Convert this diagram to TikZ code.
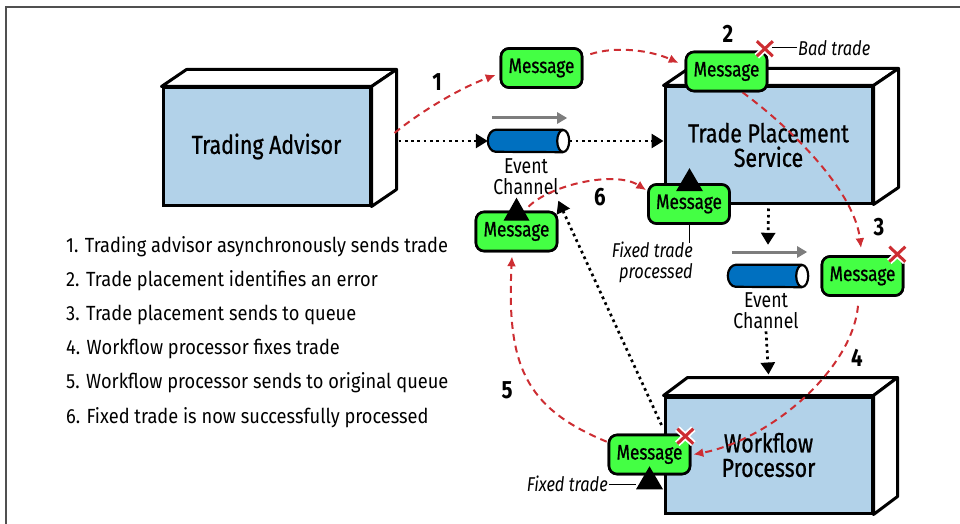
\documentclass[tikz,border=0pt]{standalone}
\usepackage{fontspec}
\setmainfont{Fira Sans}[FakeStretch=0.82]
\newfontfamily\mediumfamily{Fira Sans}[FakeStretch=0.82, FakeBold=0.8]
\newfontfamily\listfamily{Fira Sans}[FakeStretch=0.89]
\usetikzlibrary{arrows.meta}
\definecolor{boxblue}{RGB}{178,210,233}
\definecolor{msggreen}{RGB}{68,255,68}
\definecolor{flowred}{RGB}{205,45,50}
\definecolor{chanblue}{RGB}{0,112,192}
\definecolor{arrowgray}{RGB}{125,125,125}
\definecolor{framegray}{RGB}{80,80,80}
\newcommand\boxfont{\mediumfamily\fontsize{26}{24.5}\selectfont}
\newcommand\msgfont{\mediumfamily\fontsize{21}{24}\selectfont}
\newcommand\listfont{\listfamily\fontsize{20.5}{22}\selectfont}
\newcommand\chanfont{\fontsize{21.5}{21.3}\selectfont}
\newcommand\numfont{\fontsize{25}{25}\selectfont\bfseries}
\newcommand\notefont{\fontsize{20}{21}\selectfont\itshape}
\newcommand\solidbox[3]{%
  \draw[boxside] (#1.north west) -- ++(#2,#3) -- ([shift={(#2,#3)}]#1.north east) -- (#1.north east) -- cycle;
  \draw[boxside] (#1.north east) -- ++(#2,#3) -- ([shift={(#2,#3)}]#1.south east) -- (#1.south east) -- cycle;}
\newcommand\channel[1]{%
  \fill[chanblue] ([xshift=-6pt]#1.north east) -- ([xshift=8pt]#1.north west) arc[start angle=90, end angle=270, x radius=8pt, y radius=11pt] -- ([xshift=-6pt]#1.south east) -- cycle;
  \draw[line width=2.2pt] ([xshift=-6pt]#1.north east) -- ([xshift=8pt]#1.north west) arc[start angle=90, end angle=270, x radius=8pt, y radius=11pt] -- ([xshift=-6pt]#1.south east);
  \draw[line width=2.2pt, fill=white] ([xshift=-6pt]#1.east) ellipse [x radius=6pt, y radius=11pt];}
\newcommand\badmark[1]{%
  \draw[white, line width=6.5pt] ([shift={(-8,-7.5)}]#1) -- ([shift={(8,7.5)}]#1) ([shift={(-8,7.5)}]#1) -- ([shift={(8,-7.5)}]#1);
  \draw[flowred, line width=3pt] ([shift={(-8,-7.5)}]#1) -- ([shift={(8,7.5)}]#1) ([shift={(-8,7.5)}]#1) -- ([shift={(8,-7.5)}]#1);}
\begin{document}
\begin{tikzpicture}[x=1pt,y=-1pt,
  boxface/.style={draw, line width=3pt, fill=boxblue, inner sep=0pt, font=\boxfont, align=center, minimum width=207pt, minimum height=117pt},
  boxside/.style={draw, line width=3pt, fill=white, line join=round},
  msg/.style={draw, line width=2.6pt, fill=msggreen, rounded corners=8pt, minimum width=81pt, minimum height=39pt, inner sep=0pt, font=\msgfont},
  flow/.style={draw=flowred, line width=2pt, dash pattern=on 7pt off 5pt, -{Latex[length=10pt,width=9pt]}},
  dotflow/.style={line width=2.7pt, dash pattern=on 2.7pt off 3.6pt, -{Triangle[length=12pt,width=14pt]}},
  grayarrow/.style={arrowgray, line width=3pt, -{Triangle[length=10pt,width=11pt]}},
  chanhelper/.style={inner sep=0pt, minimum height=22pt},
  chanlabel/.style={font=\chanfont, align=center, inner sep=0pt},
  listitem/.style={font=\listfont, anchor=base west, inner sep=0pt},
  num/.style={font=\numfont, inner sep=0pt},
  note/.style={font=\notefont, inner sep=1pt},
  leader/.style={line width=1pt},
  pointer/.style={fill=black}
]
\useasboundingbox (0,0) rectangle (960,524);
% frame
\draw[framegray, line width=1.5pt] (6,524) -- (6,7) -- (960,7);

% boxes
\node[boxface] (ta) at (266.5,146.5) {Trading Advisor};
\solidbox{ta}{25}{-17}
\node[boxface, minimum height=116pt] (tps) at (768.5,145) {Trade Placement\\Service};
\solidbox{tps}{25}{-17}
\node[boxface, minimum height=116pt] (wp) at (768.5,455) {Workflow\\Processor};
\solidbox{wp}{24}{-18}

% event channels
\node[chanhelper, minimum width=81pt] (ec1) at (528.5,141) {};
\channel{ec1}
\node[chanhelper, minimum width=80pt] (ec2) at (768,276) {};
\channel{ec2}
\draw[grayarrow] ([shift={(4,-23)}]ec1.west) -- ([shift={(-2,-23)}]ec1.east);
\draw[grayarrow] ([shift={(4,-24)}]ec2.west) -- ([shift={(-1,-24)}]ec2.east);
\node[chanlabel] (ec1lbl) at (526,177) {Event\\Channel};
\node[chanlabel] (ec2lbl) at (766,311) {Event\\Channel};

% messages
\node[msg] (m1) at (541.5,68) {Message};
\node[msg] (m2) at (726.5,71.5) {Message};
\node[msg] (m6) at (689,204) {Message};
\node[msg] (m5) at (516.5,231.5) {Message};
\node[msg] (m3) at (862.5,276) {Message};
\node[msg] (m4) at (649.5,454.5) {Message};

% dotted connectors
\coordinate (taport) at ([shift={(27,-5.5)}]ta.east);
\draw[dotflow] (taport) -- (ec1.west);
\draw[dotflow] (ec1.east) -- (ec1.east -| tps.west);
\draw[dotflow] ([shift={(0,4)}]tps.south) -- ([shift={(0,-20)}]ec2.north);
\draw[dotflow] ([shift={(0,2)}]ec2lbl.south) -- ([shift={(0,-21)}]wp.north);
\draw[dotflow] ([shift={(-2,-30)}]wp.west) -- ([shift={(0,-10)}]m5.north east);

% red flow
\draw[flow] ([shift={(23,-13.5)}]ta.east) .. controls (420,112) and (460,88) .. ([shift={(-4,7)}]m1.west);
\draw[flow] ([shift={(7,7)}]m1.north east) .. controls (615,46) and (650,50) .. ([shift={(-6,-8.5)}]m2.west);
\draw[flow] ([xshift=16pt]m2.south) .. controls (800,135) and (855,195) .. ([shift={(-1.5,-7)}]m3.north);
\draw[flow] ([shift={(-4.5,9)}]m3.south) .. controls (852,370) and (770,440) .. ([shift={(2,0)}]m4.east);
\draw[flow] ([shift={(-1,8)}]m4.north west) .. controls (525,408) and (506.5,365) .. ([shift={(-4.5,4)}]m5.south);
\draw[flow] ([shift={(12,-4)}]m5.north) .. controls (550,185) and (615,170) .. ([shift={(-1,7)}]m6.north west);

% redraw message nodes on top of flows
\node[msg] at (m1) {Message};
\node[msg] at (m2) {Message};
\node[msg] at (m6) {Message};
\node[msg] at (m5) {Message};
\node[msg] at (m3) {Message};
\node[msg] at (m4) {Message};

% pointers
\fill[pointer] ([shift={(0.5,-15)}]m6.north) -- ++(13.5,23) -- ++(-27,0) -- cycle;
\fill[pointer] ([shift={(0,-13)}]m5.north) -- ++(13,23) -- ++(-26,0) -- cycle;
\fill[pointer] ([shift={(0,-9)}]m4.south) -- ++(13.5,23) -- ++(-27,0) -- cycle;

% bad marks
\coordinate (x2) at ([shift={(-3.5,-2)}]m2.north east);
\coordinate (x3) at ([shift={(-7,-1)}]m3.north east);
\coordinate (x4) at ([shift={(-6,2.5)}]m4.north east);
\badmark{x2}
\badmark{x3}
\badmark{x4}

% notes
\node[note, anchor=west] (badlbl) at (797,48) {Bad trade};
\draw[leader] (badlbl.west) -- ++(-25,0);
\node[note, anchor=north east, align=right] (fixlbl) at (694,241) {Fixed trade\\processed};
\draw[leader] (m6.south) -- ++(0,18);
\node[note, anchor=east] (fixlbl2) at (609,484) {Fixed trade};
\draw[leader] (fixlbl2.east) -- ++(27,0);

% step numbers
\node[num] (n1) at (437,82) {1};
\node[num] (n2) at (728,34) {2};
\node[num] (n3) at (879,227) {3};
\node[num] (n4) at (857,358) {4};
\node[num] (n5) at (507,390) {5};
\node[num] (n6) at (600,197) {6};

% list
\node[listitem] (l1) at (66,252) {1. Trading advisor asynchronously sends trade};
\node[listitem] (l2) at (66,286.2) {2. Trade placement identifies an error};
\node[listitem] (l3) at (66,320.4) {3. Trade placement sends to queue};
\node[listitem] (l4) at (66,354.6) {4. Workflow processor fixes trade};
\node[listitem] (l5) at (66,388.8) {5. Workflow processor sends to original queue};
\node[listitem] (l6) at (66,423) {6. Fixed trade is now successfully processed};
\end{tikzpicture}
\end{document}
